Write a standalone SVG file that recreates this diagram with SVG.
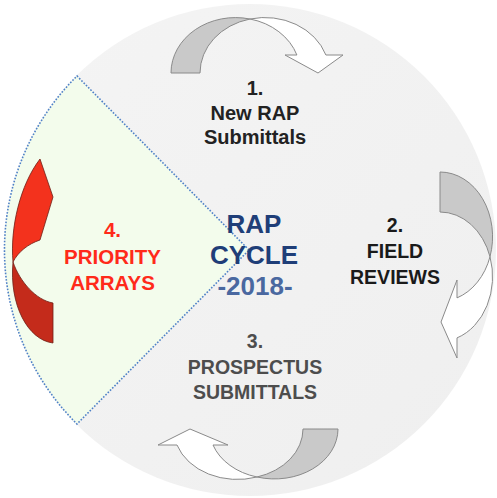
<svg xmlns="http://www.w3.org/2000/svg" width="497" height="498" viewBox="0 0 497 498">
  <defs>
    <linearGradient id="bgGrad" x1="0" y1="0" x2="1" y2="1">
      <stop offset="0" stop-color="#f4f4f4"/>
      <stop offset="1" stop-color="#efefef"/>
    </linearGradient>
    <style>
      text { font-family: "Liberation Sans", Arial, sans-serif; font-weight: bold; text-anchor: middle; }
      .t1 { font-size: 20px; fill: #222222; }
      .t2 { font-size: 19.5px; fill: #1a1a1a; }
      .t3 { font-size: 19.5px; fill: #4d4d4d; }
      .t4 { font-size: 20.5px; fill: #ff2a1a; }
      .tc { font-size: 26px; fill: #1f3e78; }
      .ty { font-size: 26px; fill: #4a68a0; }
      .gray { fill: #c9c9c9; stroke: #8a8a8a; stroke-width: 1; stroke-linejoin: round; }
      .white { fill: #ffffff; stroke: #8a8a8a; stroke-width: 1; stroke-linejoin: round; }
      .sector { fill: #f3fcec; stroke: #4f81c7; stroke-width: 1.6; stroke-dasharray: 1.6 1.6; }
    </style>
  </defs>

  <g id="background">
    <circle cx="250" cy="250" r="246" fill="url(#bgGrad)"/>
  </g>

  <g id="sector">
    <path class="sector" d="M249,250 L77,76 A245,245 0 0 0 77,424 Z"/>
  </g>

  <g id="connectors">
    <!-- top arrow (1 -> 2) -->
    <path class="gray" d="M171,73 A64.5,55.4 0 0 1 250,19 A64.5,55.4 0 0 0 200,73 Z"/>
    <path class="white" d="M250,19 A64.5,55.4 0 0 1 325.9,55 L343,55 L318,73 L285,55 L296.9,55 A64.5,55.4 0 0 0 250,19 Z"/>
    <!-- right arrow (2 -> 3) -->
    <path class="gray" d="M440,172 A52.6,64.7 0 0 1 490,256.7 A52.6,64.7 0 0 0 440,212 Z"/>
    <path class="white" d="M490,256.7 A52.6,64.7 0 0 1 457,337.9 L457,358 L441,322 L457,280 L457,297.9 A52.6,64.7 0 0 0 490,256.7 Z"/>
    <!-- bottom arrow (3 -> 4) -->
    <path class="gray" d="M338,429 A63.5,50 0 0 1 257,477 A63.5,50 0 0 0 303,429 Z"/>
    <path class="white" d="M257,477 A63.5,50 0 0 1 177,445 L158,445 L190,429 L228,445 L213,445 A63.5,50 0 0 0 257,477 Z"/>
    <!-- red arrow (4 -> 1) -->
    <path fill="#c42b1b" stroke="#6e2016" stroke-width="0.8" d="M13,262 C20,282 36,300 53,303 L53,343 C28,340 9,305 13,262 Z"/>
    <path fill="#f3321d" stroke="#6e2016" stroke-width="0.8" d="M40,159 L53,197 L40,240 C28,244 18,252 13,262 C10,228 20,185 40,159 Z"/>
  </g>

  <g id="node-1">
    <text class="t1" x="255" y="95">1.</text>
    <text class="t1" x="255" y="119.5">New RAP</text>
    <text class="t1" x="255" y="144">Submittals</text>
  </g>

  <g id="node-2">
    <text class="t2" x="395" y="232">2.</text>
    <text class="t2" x="395" y="258">FIELD</text>
    <text class="t2" x="395" y="284">REVIEWS</text>
  </g>

  <g id="node-3">
    <text class="t3" x="255" y="348">3.</text>
    <text class="t3" x="255" y="374">PROSPECTUS</text>
    <text class="t3" x="255" y="399">SUBMITTALS</text>
  </g>

  <g id="node-4">
    <text class="t4" x="112.5" y="237">4.</text>
    <text class="t4" x="112.5" y="264">PRIORITY</text>
    <text class="t4" x="112.5" y="290">ARRAYS</text>
  </g>

  <g id="center">
    <text class="tc" x="254" y="233">RAP</text>
    <text class="tc" x="254" y="264">CYCLE</text>
    <text class="ty" x="255" y="295">-2018-</text>
  </g>
</svg>
